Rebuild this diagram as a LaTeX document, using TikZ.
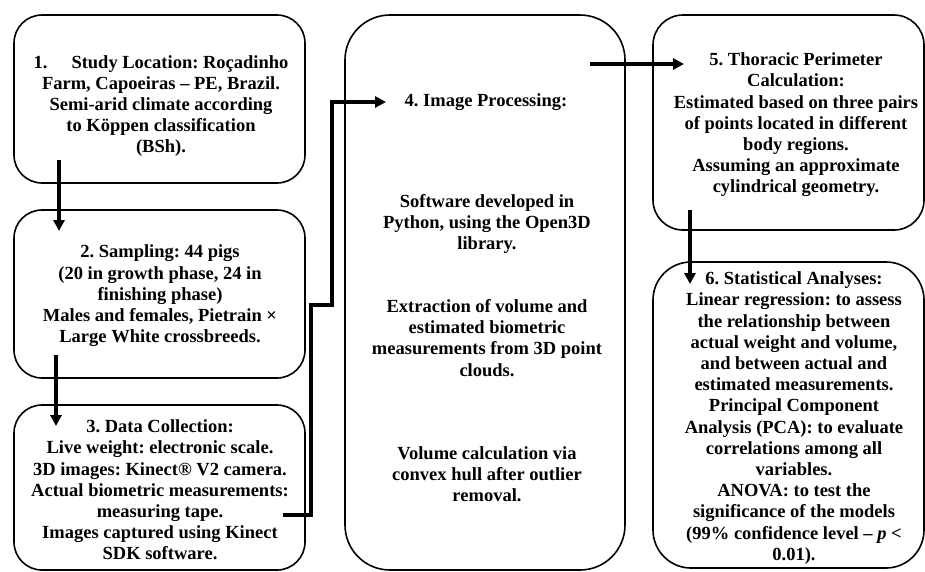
\documentclass[tikz,border=0pt]{standalone}
\usepackage{fontspec}
\setmainfont{Liberation Serif}
\usetikzlibrary{arrows.meta}
\tikzset{
  box/.style={draw=black, line width=1.6pt, rounded corners=#1, inner sep=0pt, fill=none},
  txt/.style={align=center, font=\fontsize{18.5}{21.2}\selectfont\bfseries\frenchspacing, inner sep=0pt},
  conn/.style={line width=3.2pt, line cap=butt, line join=miter},
  arr/.style={conn, -{Triangle[length=11pt,width=11pt]}}
}
\begin{document}
\begin{tikzpicture}[x=1pt,y=1pt]
\useasboundingbox (0,0) rectangle (925,-571);
% boxes
\node[box=28pt, minimum width=291pt, minimum height=168pt] (b1) at (159.5,-99) {};
\node[box=28pt, minimum width=291pt, minimum height=168pt] (b2) at (159.5,-294) {};
\node[box=28pt, minimum width=291pt, minimum height=165pt] (b3) at (159.5,-487.5) {};
\node[box=45pt, minimum width=280pt, minimum height=555pt] (b4) at (485,-292.5) {};
\node[box=30pt, minimum width=271pt, minimum height=215pt] (b5) at (788.5,-122.5) {};
\node[box=38pt, minimum width=271pt, minimum height=306pt] (b6) at (788.5,-415) {};
% connector end points
\coordinate (s1) at (59,-160);  \coordinate (e1) at (59,-231);
\coordinate (s2) at (56,-355);  \coordinate (e2) at (56,-426);
\coordinate (s3) at (283,-515); \coordinate (k1) at (311,-515); \coordinate (k2) at (311,-305);
\coordinate (k3) at (332,-305); \coordinate (k4) at (332,-102); \coordinate (e3) at (386,-102);
\coordinate (s4) at (590,-64);  \coordinate (e4) at (684,-64);
\coordinate (s5) at (690,-210); \coordinate (e5) at (690,-284);
% connectors
\draw[arr] (s1) -- (e1);
\draw[arr] (s2) -- (e2);
\draw[arr] (s3) -- (k1) -- (k2) -- (k3) -- (k4) -- (e3);
\draw[arr] (s4) -- (e4);
\draw[arr] (s5) -- (e5);
% texts
\node[txt] (t1) at (161,-106) {1.\hspace{1.3em}Study Location: Roçadinho\\Farm, Capoeiras – PE, Brazil.\\Semi-arid climate according\\to Köppen classification\\(BSh).};
\node[txt] (t2) at (160,-296) {2. Sampling: 44 pigs\\(20 in growth phase, 24 in\\finishing phase)\\Males and females, Pietrain ×\\Large White crossbreeds.};
\node[txt] (t3) at (160,-490) {3. Data Collection:\\Live weight: electronic scale.\\3D images: Kinect® V2 camera.\\Actual biometric measurements:\\measuring tape.\\Images captured using Kinect\\SDK software.};
\node[txt] (t4a) at (486,-102) {4. Image Processing:};
\node[txt] (t4b) at (487,-224) {Software developed in\\Python, using the Open3D\\library.};
\node[txt] (t4c) at (487,-338) {Extraction of volume and\\estimated biometric\\measurements from 3D point\\clouds.};
\node[txt] (t4d) at (487,-474) {Volume calculation via\\convex hull after outlier\\removal.};
\node[txt] (t5) at (796,-125) {5. Thoracic Perimeter\\Calculation:\\Estimated based on three pairs\\of points located in different\\body regions.\\Assuming an approximate\\cylindrical geometry.};
\node[txt] (t6) at (794,-418) {6. Statistical Analyses:\\Linear regression: to assess\\the relationship between\\actual weight and volume,\\and between actual and\\estimated measurements.\\Principal Component\\Analysis (PCA): to evaluate\\correlations among all\\variables.\\ANOVA: to test the\\significance of the models\\(99\% confidence level – \textit{p} <\\0.01).};
\end{tikzpicture}
\end{document}
